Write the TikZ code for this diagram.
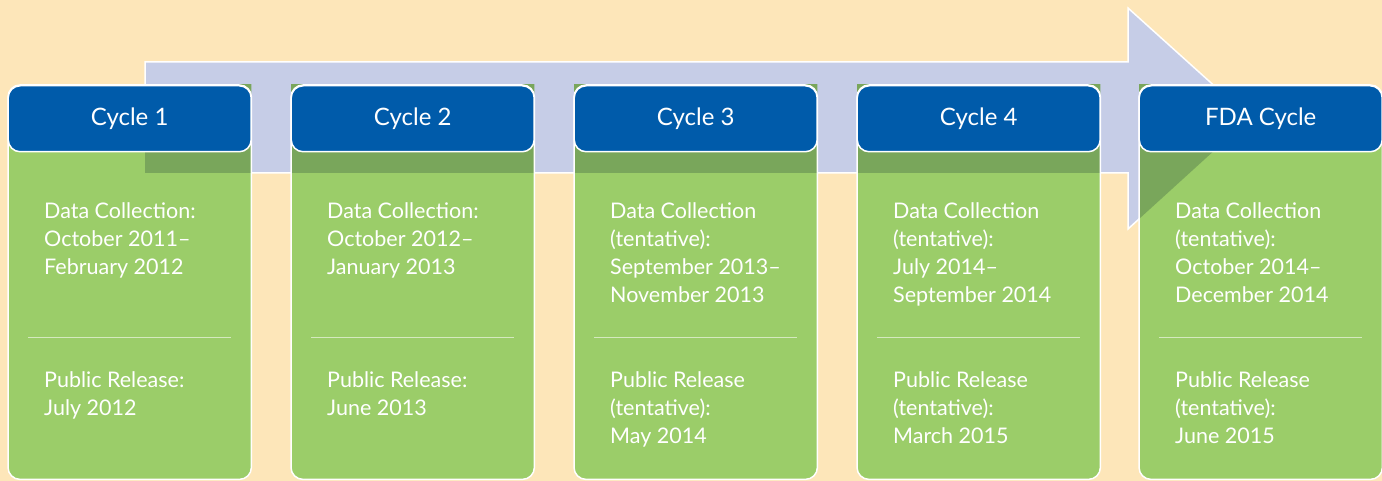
\documentclass[tikz,border=0pt]{standalone}
\usepackage{fontspec}
\setmainfont{Lato}
\usetikzlibrary{calc}
\definecolor{bgc}{HTML}{FDE6B9}
\definecolor{arrowc}{HTML}{C6CDE7}
\definecolor{hdrc}{HTML}{005BAA}
\definecolor{grnc}{HTML}{9BCD69}
\definecolor{dgrnc}{HTML}{79A65B}
\definecolor{divc}{HTML}{D4E9BE}
\tikzset{
  arrowshape/.style={insert path={(145,62) -- (1128,62) -- (1128,8) -- (1250,118) -- (1128,229) -- (1128,173) -- (145,173) -- cycle}},
  cardbox/.style={minimum width=243pt, minimum height=394pt, rounded corners=12pt, inner sep=0pt, anchor=north west, fill=grnc},
  cardedge/.style={draw=white, line width=1.5pt, rounded corners=12pt},
  hdrbox/.style={minimum width=243pt, minimum height=66pt, rounded corners=12pt, inner sep=0pt, anchor=north, fill=hdrc, draw=white, line width=1.5pt, text=white, font=\fontsize{24}{28}\selectfont},
  bodytext/.style={anchor=north west, inner sep=0pt, align=left, text=white, font=\fontsize{21.5}{28}\selectfont},
  divline/.style={draw=divc, line width=1pt}
}
\newcommand{\firstline}{\rule{0pt}{20pt}}
\newcommand{\mkcard}[5]{%
  \node[cardbox] (b#1) at (#2,85) {};
  \begin{scope}
    \clip (b#1.north west) rectangle (b#1.south east);
    \fill[dgrnc][arrowshape];
  \end{scope}
  \draw[cardedge] (b#1.north west) rectangle (b#1.south east);
  \node[hdrbox] (h#1) at (b#1.north) {#3};
  \draw[divline] ($(b#1.north west)+(20,252)$) -- ($(b#1.north east)+(-20,252)$);
  \node[bodytext] (d#1) at ($(b#1.north west)+(36,113)$) {\firstline #4};
  \node[bodytext] (p#1) at ($(b#1.north west)+(36,282)$) {\firstline #5};
}
\begin{document}
\begin{tikzpicture}[x=1pt,y=-1pt]
\fill[bgc] (0,0) rectangle (1382,481);
\useasboundingbox (0,0) rectangle (1382,481);
\draw[white, line width=1.5pt, fill=arrowc][arrowshape];
\mkcard{1}{8}{Cycle 1}{Data Collection:\\October 2011–\\February 2012}{Public Release:\\July 2012}
\mkcard{2}{291}{Cycle 2}{Data Collection:\\October 2012–\\January 2013}{Public Release:\\June 2013}
\mkcard{3}{574}{Cycle 3}{Data Collection\\(tentative):\\September 2013–\\November 2013}{Public Release\\(tentative):\\May 2014}
\mkcard{4}{857}{Cycle 4}{Data Collection\\(tentative):\\July 2014–\\September 2014}{Public Release\\(tentative):\\March 2015}
\mkcard{5}{1139}{FDA Cycle}{Data Collection\\(tentative):\\October 2014–\\December 2014}{Public Release\\(tentative):\\June 2015}
\end{tikzpicture}
\end{document}
